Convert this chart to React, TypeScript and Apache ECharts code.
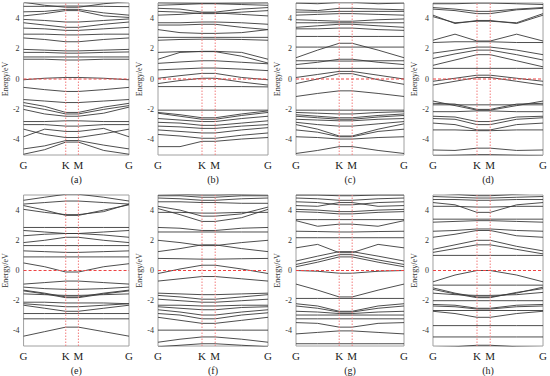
import React, { useEffect, useRef } from "react";
import * as echarts from "echarts";

const kPath = [0, 0.2, 0.4, 0.52, 0.76, 1];
const kTickPos = [0, 0.4, 0.52, 1];
const kTickLabels = ["G", "K", "M", "G"];
const yTicks = [-4, -2, 0, 2, 4];
const panelNames = ["(a)", "(b)", "(c)", "(d)", "(e)", "(f)", "(g)", "(h)"];

const bandsA = [
  [5.05, 4.85, 4.72, 4.72, 4.95, 5.1],
  [4.78, 4.78, 4.8, 4.8, 4.78, 4.76],
  [4.42, 4.45, 4.58, 4.58, 4.35, 4.2],
  [4.15, 4.3, 4.5, 4.5, 4.15, 4.05],
  [3.92, 3.85, 3.75, 3.75, 3.85, 3.95],
  [3.7, 3.55, 3.4, 3.4, 3.6, 3.75],
  [3.35, 3.3, 3.2, 3.2, 3.3, 3.4],
  [2.95, 2.95, 2.9, 2.9, 2.95, 2.95],
  [2.7, 2.6, 2.45, 2.45, 2.6, 2.7],
  [1.95, 1.9, 1.85, 1.85, 1.9, 1.95],
  [1.75, 1.75, 1.7, 1.7, 1.75, 1.78],
  [1.45, 1.45, 1.45, 1.45, 1.45, 1.45],
  [1.3, 1.3, 1.25, 1.25, 1.3, 1.3],
  [-0.05, 0.05, 0.1, 0.1, 0.05, -0.05],
  [-0.55, -0.7, -0.82, -0.82, -0.7, -0.55],
  [-1.35, -1.45, -1.55, -1.55, -1.45, -1.35],
  [-1.55, -1.8, -2.2, -2.2, -1.85, -1.6],
  [-1.75, -2.0, -2.3, -2.3, -2.0, -1.75],
  [-2.0, -2.3, -2.45, -2.45, -2.25, -1.85],
  [-2.8, -2.8, -2.75, -2.75, -2.8, -2.8],
  [-3.0, -3.0, -3.1, -3.1, -3.0, -3.0],
  [-3.8, -3.3, -3.45, -3.45, -3.25, -3.8],
  [-3.3, -3.65, -3.85, -3.85, -3.6, -3.3],
  [-4.6, -4.4, -4.05, -4.05, -4.35, -4.6],
  [-4.95, -4.65, -4.15, -4.15, -4.7, -4.95],
];

const bandsB = [
  [5.02, 5.0, 4.98, 4.98, 5.0, 5.02],
  [4.85, 4.9, 4.95, 4.95, 4.9, 4.85],
  [4.65, 4.6, 4.4, 4.4, 4.6, 4.7],
  [4.45, 4.4, 4.3, 4.3, 4.4, 4.5],
  [4.2, 4.25, 4.35, 4.35, 4.25, 4.15],
  [3.7, 3.7, 3.75, 3.75, 3.7, 3.6],
  [3.55, 3.55, 3.6, 3.6, 3.4, 3.25],
  [3.25, 3.05, 3.0, 3.0, 3.05, 3.25],
  [2.74, 2.74, 2.74, 2.74, 2.74, 2.74],
  [2.55, 2.6, 2.62, 2.62, 2.6, 2.55],
  [1.75, 1.8, 1.8, 1.8, 1.5, 1.05],
  [1.3, 1.75, 1.82, 1.82, 1.75, 1.3],
  [1.03, 1.12, 1.2, 1.2, 1.1, 1.0],
  [0.6, 0.66, 0.72, 0.72, 0.65, 0.55],
  [0.05, 0.22, 0.37, 0.37, 0.1, -0.05],
  [-0.3, -0.1, 0.05, 0.05, -0.2, -0.4],
  [-0.5, -0.5, -0.5, -0.5, -0.5, -0.52],
  [-2.05, -2.05, -2.05, -2.05, -2.05, -2.05],
  [-2.2, -2.35, -2.55, -2.55, -2.3, -2.1],
  [-2.25, -2.45, -2.65, -2.65, -2.4, -2.2],
  [-2.6, -2.7, -2.8, -2.8, -2.6, -2.45],
  [-2.85, -2.9, -3.05, -3.05, -2.9, -2.75],
  [-3.1, -3.15, -3.25, -3.25, -3.1, -3.0],
  [-3.35, -3.45, -3.55, -3.55, -3.35, -3.2],
  [-3.65, -3.75, -3.9, -3.9, -3.7, -3.55],
  [-4.45, -4.45, -4.1, -4.1, -3.95, -3.85],
];

const bandsC = [
  [5.0, 4.95, 5.05, 5.05, 4.95, 5.0],
  [4.55, 4.5, 4.65, 4.65, 4.6, 4.55],
  [4.4, 4.4, 4.45, 4.45, 4.45, 4.45],
  [4.2, 4.25, 4.3, 4.3, 4.25, 4.2],
  [3.9, 3.85, 3.8, 3.8, 3.9, 3.95],
  [3.7, 3.7, 3.7, 3.7, 3.7, 3.7],
  [3.4, 3.5, 3.6, 3.6, 3.5, 3.4],
  [3.3, 3.3, 3.35, 3.35, 3.25, 3.2],
  [2.8, 2.8, 2.8, 2.8, 2.8, 2.8],
  [1.4, 1.9, 2.35, 2.35, 1.9, 1.4],
  [2.1, 2.1, 2.1, 2.1, 2.1, 2.1],
  [1.2, 1.2, 1.18, 1.18, 1.2, 1.2],
  [0.95, 1.1, 1.3, 1.3, 1.1, 0.95],
  [0.7, 0.7, 0.7, 0.7, 0.7, 0.7],
  [0.1, 0.3, 0.5, 0.5, 0.25, 0.0],
  [-0.3, 0.0, 0.35, 0.35, -0.05, -0.35],
  [-1.15, -0.95, -0.78, -0.78, -0.95, -1.15],
  [-2.05, -2.05, -2.05, -2.05, -2.05, -2.05],
  [-2.2, -2.25, -2.3, -2.3, -2.2, -2.15],
  [-2.35, -2.45, -2.55, -2.55, -2.4, -2.3],
  [-2.45, -2.55, -2.65, -2.65, -2.5, -2.4],
  [-2.65, -2.7, -2.75, -2.75, -2.65, -2.6],
  [-2.85, -3.0, -3.1, -3.1, -2.95, -2.8],
  [-3.0, -3.3, -3.75, -3.75, -3.3, -2.95],
  [-3.35, -3.5, -3.8, -3.8, -3.45, -3.3],
  [-3.8, -3.85, -3.95, -3.95, -3.85, -3.8],
  [-4.9, -4.7, -4.45, -4.45, -4.7, -4.9],
];

const bandsD = [
  [4.95, 4.95, 5.0, 5.0, 4.95, 4.9],
  [4.7, 4.6, 4.45, 4.45, 4.6, 4.7],
  [4.6, 4.5, 4.3, 4.3, 4.55, 4.65],
  [4.2, 3.65, 3.85, 3.85, 3.65, 4.2],
  [4.1, 3.7, 3.8, 3.8, 3.7, 4.3],
  [2.55, 2.95, 2.5, 2.5, 2.95, 2.5],
  [2.4, 2.45, 2.45, 2.45, 2.4, 2.4],
  [1.7, 1.9, 2.1, 2.1, 1.9, 1.6],
  [1.35, 1.65, 1.9, 1.9, 1.6, 1.25],
  [0.9, 1.25, 1.6, 1.6, 1.2, 0.8],
  [0.7, 0.7, 0.7, 0.7, 0.7, 0.7],
  [-0.15, 0.05, 0.25, 0.25, 0.05, -0.15],
  [-0.4, -0.15, 0.1, 0.1, -0.15, -0.4],
  [-1.45, -1.75, -2.05, -2.05, -1.75, -1.45],
  [-1.6, -1.65, -2.0, -2.0, -1.65, -1.6],
  [-1.7, -1.7, -1.7, -1.7, -1.7, -1.7],
  [-2.15, -2.15, -2.1, -2.1, -2.15, -2.15],
  [-2.45, -2.5, -2.8, -2.8, -2.5, -2.45],
  [-2.6, -2.65, -3.0, -3.0, -2.65, -2.55],
  [-2.9, -3.0, -3.35, -3.35, -3.0, -2.9],
  [-3.35, -3.35, -3.4, -3.4, -3.35, -3.35],
  [-4.67, -4.7, -4.55, -4.55, -4.7, -4.67],
  [-5.05, -5.02, -4.98, -4.98, -5.02, -5.05],
];

const bandsE = [
  [4.65, 4.85, 5.05, 5.05, 4.85, 4.6],
  [4.4, 4.5, 4.6, 4.6, 4.5, 4.4],
  [4.3, 4.0, 3.65, 3.65, 4.0, 4.35],
  [4.05, 3.85, 3.7, 3.7, 3.9, 4.4],
  [2.85, 2.85, 2.85, 2.85, 2.85, 2.85],
  [2.65, 2.55, 2.45, 2.45, 2.55, 2.65],
  [2.3, 2.4, 2.45, 2.45, 2.35, 2.2],
  [1.85, 2.0, 2.2, 2.2, 2.0, 1.85],
  [1.65, 1.65, 1.65, 1.65, 1.65, 1.65],
  [1.3, 1.25, 1.2, 1.2, 1.25, 1.3],
  [0.9, 0.9, 0.9, 0.9, 0.9, 0.9],
  [0.5, 0.25, -0.1, -0.1, 0.25, 0.45],
  [-0.9, -0.8, -0.7, -0.7, -0.8, -0.9],
  [-1.1, -1.2, -1.25, -1.25, -1.2, -1.1],
  [-1.3, -1.5, -1.75, -1.75, -1.5, -1.3],
  [-1.35, -1.55, -1.8, -1.8, -1.55, -1.35],
  [-1.55, -1.6, -1.65, -1.65, -1.6, -1.55],
  [-2.1, -2.1, -2.15, -2.15, -2.15, -2.2],
  [-2.2, -2.3, -2.4, -2.4, -2.3, -2.2],
  [-2.3, -2.5, -2.7, -2.7, -2.5, -2.3],
  [-2.85, -2.85, -2.85, -2.85, -2.85, -2.85],
  [-3.2, -3.2, -3.2, -3.2, -3.2, -3.2],
  [-4.35, -4.05, -3.75, -3.75, -4.05, -4.35],
];

const bandsF = [
  [5.1, 5.05, 5.0, 5.0, 5.05, 5.1],
  [4.95, 4.95, 4.85, 4.85, 4.95, 4.95],
  [4.8, 4.75, 4.65, 4.65, 4.75, 4.8],
  [4.55, 4.55, 4.5, 4.5, 4.45, 4.45],
  [4.25, 4.0, 3.6, 3.6, 3.75, 4.2],
  [4.1, 3.7, 3.25, 3.25, 3.5, 4.05],
  [3.85, 3.85, 3.8, 3.8, 3.85, 3.85],
  [2.85, 2.8, 2.65, 2.65, 2.8, 2.85],
  [2.55, 2.55, 2.55, 2.55, 2.55, 2.55],
  [2.0, 1.85, 1.65, 1.65, 1.85, 2.0],
  [1.25, 1.45, 1.7, 1.7, 1.45, 1.25],
  [0.8, 0.78, 0.75, 0.75, 0.78, 0.8],
  [-0.2, 0.1, 0.35, 0.35, 0.1, -0.2],
  [-0.7, -0.55, -0.4, -0.4, -0.55, -0.7],
  [-1.5, -1.55, -1.6, -1.6, -1.55, -1.5],
  [-1.65, -1.75, -1.9, -1.9, -1.75, -1.6],
  [-1.9, -2.0, -2.1, -2.1, -2.0, -1.9],
  [-2.3, -2.3, -2.35, -2.35, -2.3, -2.3],
  [-2.4, -2.5, -2.6, -2.6, -2.45, -2.4],
  [-2.6, -2.75, -2.95, -2.95, -2.75, -2.6],
  [-2.85, -2.95, -3.2, -3.2, -2.95, -2.8],
  [-3.1, -3.3, -3.5, -3.5, -3.3, -3.1],
  [-3.95, -3.95, -3.95, -3.95, -3.95, -3.95],
  [-4.75, -4.55, -4.4, -4.4, -4.55, -4.75],
  [-5.05, -4.95, -4.85, -4.85, -4.95, -5.05],
];

const bandsG = [
  [5.0, 5.0, 4.95, 4.95, 5.0, 5.0],
  [4.8, 4.75, 4.65, 4.65, 4.75, 4.8],
  [4.55, 4.5, 4.35, 4.35, 4.5, 4.55],
  [4.3, 4.25, 4.5, 4.5, 4.25, 4.3],
  [4.05, 4.0, 3.9, 3.9, 4.0, 4.05],
  [3.9, 3.85, 3.75, 3.75, 3.85, 3.9],
  [3.37, 3.37, 3.37, 3.37, 3.37, 3.37],
  [3.3, 2.93, 3.07, 3.07, 2.93, 3.3],
  [2.6, 2.58, 2.55, 2.55, 2.58, 2.6],
  [2.17, 2.17, 2.17, 2.17, 2.17, 2.17],
  [1.5, 1.73, 1.18, 1.18, 1.73, 1.5],
  [0.63, 0.95, 1.25, 1.25, 0.95, 0.63],
  [0.4, 0.7, 1.05, 1.05, 0.7, 0.4],
  [0.25, 0.55, 0.9, 0.9, 0.55, 0.25],
  [0.0, -0.05, -0.18, -0.18, -0.05, 0.0],
  [-0.9, -1.3, -1.75, -1.75, -1.3, -0.9],
  [-1.85, -1.85, -1.85, -1.85, -1.85, -1.85],
  [-2.2, -2.35, -2.7, -2.7, -2.35, -2.2],
  [-2.35, -2.5, -2.75, -2.75, -2.5, -2.35],
  [-2.7, -2.75, -2.85, -2.85, -2.75, -2.7],
  [-2.95, -2.95, -2.95, -2.95, -2.95, -2.95],
  [-3.2, -3.2, -3.2, -3.2, -3.2, -3.2],
  [-3.45, -3.5, -3.75, -3.75, -3.5, -3.45],
  [-4.2, -4.1, -4.0, -4.0, -4.1, -4.2],
  [-4.85, -4.85, -4.85, -4.85, -4.85, -4.85],
];

const bandsH = [
  [5.15, 5.05, 4.95, 4.95, 5.05, 5.15],
  [4.9, 4.85, 4.8, 4.8, 4.85, 4.9],
  [4.7, 4.7, 4.65, 4.65, 4.7, 4.7],
  [4.5, 4.35, 3.85, 3.85, 4.35, 4.5],
  [4.25, 4.25, 4.2, 4.2, 4.25, 4.25],
  [3.4, 3.4, 3.4, 3.4, 3.4, 3.4],
  [3.2, 3.25, 3.3, 3.3, 3.25, 3.2],
  [2.6, 2.65, 2.75, 2.75, 2.65, 2.6],
  [2.2, 2.4, 2.65, 2.65, 2.3, 2.2],
  [1.4, 1.7, 2.0, 2.0, 1.6, 1.3],
  [1.2, 1.45, 1.7, 1.7, 1.4, 1.1],
  [1.0, 1.0, 1.0, 1.0, 1.0, 1.0],
  [-0.75, -0.3, 0.0, 0.0, -0.3, -0.75],
  [-0.97, -0.97, -0.97, -0.97, -0.97, -0.97],
  [-1.15, -1.5, -1.75, -1.75, -1.5, -1.1],
  [-1.25, -1.55, -1.8, -1.8, -1.45, -1.2],
  [-1.5, -1.6, -1.65, -1.65, -1.6, -1.45],
  [-2.0, -2.0, -2.0, -2.0, -2.0, -2.0],
  [-2.25, -2.3, -2.5, -2.5, -2.3, -2.25],
  [-2.35, -2.4, -2.55, -2.55, -2.4, -2.35],
  [-2.65, -2.65, -2.65, -2.65, -2.65, -2.65],
  [-2.7, -2.85, -3.1, -3.1, -2.85, -2.7],
  [-3.65, -3.65, -3.65, -3.65, -3.65, -3.65],
  [-4.4, -4.4, -4.4, -4.4, -4.4, -4.4],
  [-5.1, -5.05, -4.95, -4.95, -5.05, -5.1],
];

const allBands = [bandsA, bandsB, bandsC, bandsD, bandsE, bandsF, bandsG, bandsH];

const gridLefts = [21, 158, 296, 433];
const gridWidths = [108, 110, 108, 112];
const gridTops = [3, 195];
const gridHeight = 152;
const serif = "Liberation Serif";

export default function App() {
  const ref = useRef<HTMLDivElement>(null);
  useEffect(() => {
    if (!ref.current) return;
    const chart = echarts.init(ref.current, null, { renderer: "svg" });
    const grids: any[] = [];
    const xAxes: any[] = [];
    const yAxes: any[] = [];
    const series: any[] = [];
    allBands.forEach((bands, p) => {
      const col = p % 4;
      const row = Math.floor(p / 4);
      grids.push({
        left: gridLefts[col],
        width: gridWidths[col],
        top: gridTops[row],
        height: gridHeight,
        show: true,
        borderColor: "#a0a0a0",
        borderWidth: 1,
        containLabel: false,
      });
      xAxes.push({
        type: "value",
        gridIndex: p,
        min: 0,
        max: 1,
        axisLine: { show: false },
        axisTick: { show: false },
        splitLine: { show: false },
        axisLabel: {
          customValues: kTickPos,
          formatter: (v: number) => {
            const i = kTickPos.findIndex((k) => Math.abs(k - v) < 1e-6);
            return i >= 0 ? kTickLabels[i] : "";
          },
          fontFamily: serif,
          fontSize: 11,
          color: "#222",
          margin: 4,
        },
        name: panelNames[p],
        nameLocation: "middle",
        nameGap: 19,
        nameTextStyle: { fontFamily: serif, fontSize: 10, color: "#222" },
      });
      yAxes.push({
        type: "value",
        gridIndex: p,
        min: -5,
        max: 5,
        axisLine: { show: false },
        axisTick: { show: false },
        splitLine: { show: false },
        axisLabel: {
          customValues: yTicks,
          fontFamily: serif,
          fontSize: 8,
          color: "#333",
          margin: 4,
        },
        name: "Energy/eV",
        nameLocation: "middle",
        nameGap: 13,
        nameTextStyle: { fontFamily: serif, fontSize: 8, color: "#333" },
      });
      bands.forEach((b) => {
        series.push({
          type: "line",
          xAxisIndex: p,
          yAxisIndex: p,
          data: kPath.map((x, i) => [x, b[i]]),
          symbol: "none",
          showSymbol: false,
          silent: true,
          lineStyle: { color: "#3a3a3a", width: 0.9 },
          z: 2,
        });
      });
      [kTickPos[1], kTickPos[2]].forEach((kx) => {
        series.push({
          type: "line",
          xAxisIndex: p,
          yAxisIndex: p,
          data: [
            [kx, -5],
            [kx, 5],
          ],
          symbol: "none",
          showSymbol: false,
          silent: true,
          lineStyle: { color: "#f27c7c", width: 1, type: [1.5, 1.5] },
          z: 3,
        });
      });
      series.push({
        type: "line",
        xAxisIndex: p,
        yAxisIndex: p,
        data: [
          [0, 0],
          [1, 0],
        ],
        symbol: "none",
        showSymbol: false,
        silent: true,
        lineStyle: { color: "#ee4444", width: 1, type: [3, 2] },
        z: 4,
      });
    });
    chart.setOption({
      animation: false,
      backgroundColor: "#ffffff",
      grid: grids,
      xAxis: xAxes,
      yAxis: yAxes,
      series,
    });
    return () => chart.dispose();
  }, []);
  return (
    <div
      ref={ref}
      style={{ position: "fixed", left: 0, top: 0, width: 550, height: 376 }}
    />
  );
}
